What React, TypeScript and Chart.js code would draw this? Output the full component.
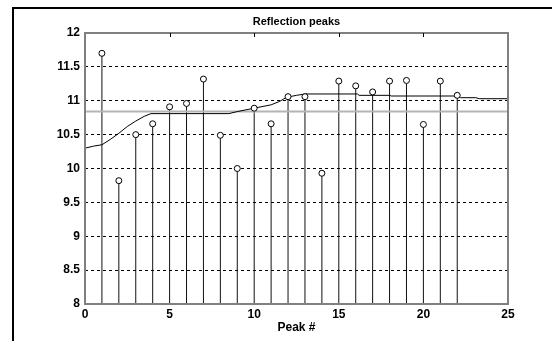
import { useEffect, useRef } from 'react';
import { Chart, registerables } from 'chart.js';

Chart.register(...registerables);

// ---- data ----
const peakNumbers = [1, 2, 3, 4, 5, 6, 7, 8, 9, 10, 11, 12, 13, 14, 15, 16, 17, 18, 19, 20, 21, 22];
const peakValues = [11.70, 9.82, 10.50, 10.66, 10.91, 10.96, 11.32, 10.49, 10.00, 10.89, 10.66, 11.06, 11.06, 9.93, 11.29, 11.22, 11.13, 11.29, 11.30, 10.65, 11.29, 11.08];
const trendX = [0, 0.5, 1, 1.5, 2, 2.5, 3, 3.5, 3.9, 8.5, 9, 10, 11, 11.5, 11.9, 12.5, 13, 16.1, 16.2, 18, 18.1, 22.0, 22.2, 23.1, 23.3, 25];
const trendY = [10.30, 10.33, 10.35, 10.43, 10.52, 10.62, 10.70, 10.77, 10.81, 10.81, 10.84, 10.89, 10.94, 10.99, 11.05, 11.08, 11.10, 11.10, 11.08, 11.08, 11.07, 11.07, 11.045, 11.045, 11.03, 11.03];
const meanLevel = 10.84;
const meanSpan = [0, 25];
const stemBase = 8;
const xTickValues = [0, 5, 10, 15, 20, 25];
const yRange = [8, 12];

const FONT = '"Liberation Sans", Arial, sans-serif';

const decorPlugin = {
  id: 'decor',
  afterDraw(chart: any) {
    const { ctx, chartArea: a, scales } = chart;
    ctx.save();
    // axes box
    ctx.strokeStyle = '#808080';
    ctx.lineWidth = 2;
    ctx.strokeRect(a.left, a.top, a.right - a.left, a.bottom - a.top);
    // top tick marks
    ctx.strokeStyle = '#000';
    ctx.lineWidth = 1;
    xTickValues.slice(1, -1).forEach((v) => {
      const px = Math.round(scales.x.getPixelForValue(v)) + 0.5;
      ctx.beginPath();
      ctx.moveTo(px, a.top);
      ctx.lineTo(px, a.top + 4);
      ctx.stroke();
    });
    // title
    ctx.fillStyle = '#000';
    ctx.font = `bold 11px ${FONT}`;
    ctx.textAlign = 'center';
    ctx.textBaseline = 'middle';
    ctx.fillText('Reflection peaks', (a.left + a.right) / 2, 22);
    // outer frame lines
    ctx.strokeStyle = '#000';
    ctx.lineWidth = 2;
    ctx.beginPath();
    ctx.moveTo(13, 341);
    ctx.lineTo(13, 8);
    ctx.lineTo(552, 8);
    ctx.stroke();
    ctx.restore();
  },
};

export default function App() {
  const ref = useRef<HTMLCanvasElement | null>(null);

  useEffect(() => {
    if (!ref.current) return;
    const stems = peakNumbers.flatMap((x, i) => [
      { x, y: stemBase },
      { x, y: peakValues[i] },
      { x, y: null as any },
    ]);
    const markers = peakNumbers.map((x, i) => ({ x, y: peakValues[i] }));
    const trend = trendX.map((x, i) => ({ x, y: trendY[i] }));
    const mean = meanSpan.map((x) => ({ x, y: meanLevel }));

    const chart = new Chart(ref.current, {
      type: 'line',
      data: {
        datasets: [
          {
            data: markers,
            showLine: false,
            pointStyle: 'circle',
            pointRadius: 3,
            pointBorderWidth: 1,
            pointBorderColor: '#000',
            pointBackgroundColor: '#fff',
            order: 0,
          },
          {
            data: trend,
            borderColor: '#000',
            borderWidth: 1,
            pointRadius: 0,
            tension: 0,
            order: 1,
          },
          {
            data: mean,
            borderColor: '#b4b4b4',
            borderWidth: 2,
            pointRadius: 0,
            order: 2,
          },
          {
            data: stems,
            borderColor: '#111',
            borderWidth: 1,
            pointRadius: 0,
            spanGaps: false,
            order: 3,
          },
        ] as any,
      },
      options: {
        animation: false,
        responsive: false,
        events: [],
        layout: { padding: { top: 33, right: 44, bottom: 0, left: 0 } },
        plugins: {
          legend: { display: false },
          tooltip: { enabled: false },
          title: { display: false },
        },
        scales: {
          x: {
            type: 'linear',
            min: 0,
            max: 25,
            afterFit: (s: any) => {
              s.height = 37;
            },
            afterBuildTicks: (s: any) => {
              s.ticks = xTickValues.map((v) => ({ value: v }));
            },
            grid: { display: false, drawTicks: false },
            border: { display: false },
            ticks: {
              color: '#000',
              padding: 3,
              maxRotation: 0,
              callback: (v: any) => String(v),
              font: { family: FONT, size: 12, weight: 'bold' },
            },
            title: {
              display: true,
              text: 'Peak #',
              color: '#000',
              padding: { top: 0, bottom: 6 },
              font: { family: FONT, size: 12, weight: 'bold' },
            },
          },
          y: {
            type: 'linear',
            min: yRange[0],
            max: yRange[1],
            afterFit: (s: any) => {
              s.width = 85;
            },
            ticks: {
              stepSize: 0.5,
              color: '#000',
              padding: 5,
              callback: (v: any) => String(Number(v)),
              font: { family: FONT, size: 12, weight: 'bold' },
            },
            grid: { color: '#000', lineWidth: 1, drawTicks: false },
            border: { display: false, dash: [3, 3] },
          },
        },
      },
      plugins: [decorPlugin],
    });
    return () => chart.destroy();
  }, []);

  return (
    <div style={{ position: 'fixed', left: 0, top: 0, width: 552, height: 341, background: '#fff' }}>
      <canvas ref={ref} width={552} height={341} style={{ display: 'block' }} />
    </div>
  );
}
